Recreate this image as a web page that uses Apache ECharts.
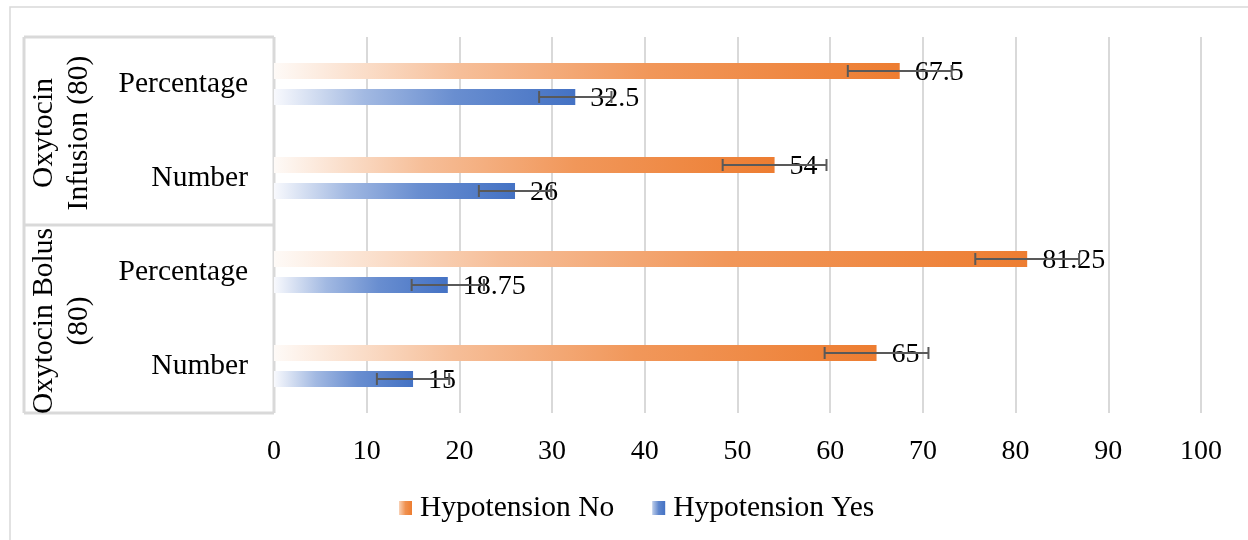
<!DOCTYPE html>
<html>
<head>
<meta charset="utf-8">
<script src="https://cdn.jsdelivr.net/npm/echarts@6/dist/echarts.min.js"></script>
<style>html,body{margin:0;padding:0;background:#fff;}#c{width:1248px;height:540px;}</style>
</head>
<body>
<div id="c"></div>
<script>
// ---- data ----
const categories = ['Percentage', 'Number', 'Percentage', 'Number'];
const groupLabels = ['Oxytocin\nInfusion (80)', 'Oxytocin Bolus\n(80)'];
const groupSpans = [[0, 1], [2, 3]];
const seriesNames = ['Hypotension No', 'Hypotension Yes'];
const hypoNo = [67.5, 54, 81.25, 65];
const hypoYes = [32.5, 26, 18.75, 15];
const hypoNoErr = [5.6, 5.6, 5.6, 5.6];
const hypoYesErr = [3.9, 3.9, 3.9, 3.9];
const xMin = 0, xMax = 100, xStep = 10;

// ---- style ----
const FONT = "'Liberation Serif','Times New Roman',serif";
const BAR_W = 16, BAR_GAP_PX = 10;
function grad(r, g, b) {
  const mix = a => 'rgb(' + Math.round(255 - a * (255 - r)) + ',' + Math.round(255 - a * (255 - g)) + ',' + Math.round(255 - a * (255 - b)) + ')';
  return new echarts.graphic.LinearGradient(0, 0, 1, 0, [
    {offset: 0, color: mix(0.04)},
    {offset: 0.15, color: mix(0.27)},
    {offset: 0.3, color: mix(0.5)},
    {offset: 0.6, color: mix(0.8)},
    {offset: 1, color: mix(1)}
  ]);
}
function legendGrad(r, g, b) {
  const mix = a => 'rgb(' + Math.round(255 - a * (255 - r)) + ',' + Math.round(255 - a * (255 - g)) + ',' + Math.round(255 - a * (255 - b)) + ')';
  return new echarts.graphic.LinearGradient(0, 0, 1, 0, [
    {offset: 0, color: mix(0.35)},
    {offset: 0.5, color: mix(0.85)},
    {offset: 1, color: mix(1)}
  ]);
}
const orangeGrad = grad(237, 125, 49);
const blueGrad = grad(68, 114, 196);

function errSeries(vals, errs, sign) {
  return {
    type: 'custom',
    z: 4,
    silent: true,
    encode: {x: 0, y: 2},
    data: vals.map((v, i) => [v, errs[i], i]),
    renderItem: function (params, api) {
      const v = api.value(0), e = api.value(1), c = api.value(2);
      const p1 = api.coord([v - e, c]);
      const p2 = api.coord([v + e, c]);
      const y = p1[1] + sign * (BAR_W + BAR_GAP_PX) / 2;
      const st = {stroke: '#595959', lineWidth: 2};
      return {
        type: 'group',
        children: [
          {type: 'line', shape: {x1: p1[0], y1: y, x2: p2[0], y2: y}, style: st},
          {type: 'line', shape: {x1: p1[0], y1: y - 6, x2: p1[0], y2: y + 6}, style: st},
          {type: 'line', shape: {x1: p2[0], y1: y - 6, x2: p2[0], y2: y + 6}, style: st}
        ]
      };
    }
  };
}

const chart = echarts.init(document.getElementById('c'));
const labelStyle = {show: true, position: 'right', distance: 15, offset: [0, 2], fontSize: 28, fontFamily: FONT, color: '#000'};
chart.setOption({
  animation: false,
  textStyle: {fontFamily: FONT},
  grid: {left: 274, right: 47, top: 37, bottom: 127},
  legend: {
    top: 488, left: 394,
    itemWidth: 13, itemHeight: 14, itemGap: 38,
    icon: 'rect',
    data: [
      {name: seriesNames[0], itemStyle: {color: legendGrad(237, 125, 49)}},
      {name: seriesNames[1], itemStyle: {color: legendGrad(68, 114, 196)}}
    ],
    textStyle: {fontSize: 29.5, fontFamily: FONT, color: '#000', padding: [0, 0, 0, 3]}
  },
  xAxis: {
    type: 'value', min: xMin, max: xMax, interval: xStep,
    axisLine: {show: false}, axisTick: {show: false},
    splitLine: {show: true, lineStyle: {color: '#d9d9d9', width: 2}},
    axisLabel: {fontSize: 28, fontFamily: FONT, color: '#000', margin: 25}
  },
  yAxis: {
    type: 'category', inverse: true, data: categories,
    axisLine: {show: false}, axisTick: {show: false},
    axisLabel: {fontSize: 29.5, fontFamily: FONT, color: '#000', margin: 26, padding: [4, 0, 0, 0]}
  },
  series: [
    {name: seriesNames[0], type: 'bar', data: hypoNo, barWidth: BAR_W, barGap: (BAR_GAP_PX / BAR_W * 100) + '%',
      itemStyle: {color: orangeGrad}, label: labelStyle, z: 2},
    {name: seriesNames[1], type: 'bar', data: hypoYes, barWidth: BAR_W, barGap: (BAR_GAP_PX / BAR_W * 100) + '%',
      itemStyle: {color: blueGrad}, label: labelStyle, z: 2},
    errSeries(hypoNo, hypoNoErr, -1),
    errSeries(hypoYes, hypoYesErr, 1)
  ]
});

// ---- decorations: outer frame and multi-level category box ----
const rect = chart.getModel().getComponent('grid').coordinateSystem.getRect();
const boxLeft = 24, groupColX = 62;
const catY = i => chart.convertToPixel({yAxisIndex: 0}, i);
const band = catY(1) - catY(0);
const lineSt = {stroke: '#d9d9d9', lineWidth: 3};
const elements = [
  {type: 'rect', shape: {x: 10, y: 7, width: 1260, height: 560}, style: {fill: null, stroke: '#d9d9d9', lineWidth: 1.5}, silent: true, z: 0},
  {type: 'line', shape: {x1: boxLeft, y1: rect.y, x2: boxLeft, y2: rect.y + rect.height}, style: lineSt, z: 1},
  {type: 'line', shape: {x1: rect.x, y1: rect.y, x2: rect.x, y2: rect.y + rect.height}, style: lineSt, z: 1},
  {type: 'line', shape: {x1: boxLeft, y1: rect.y, x2: rect.x, y2: rect.y}, style: lineSt, z: 1},
  {type: 'line', shape: {x1: boxLeft, y1: rect.y + rect.height, x2: rect.x, y2: rect.y + rect.height}, style: lineSt, z: 1}
];
groupSpans.forEach((sp, gi) => {
  const top = catY(sp[0]) - band / 2, bot = catY(sp[1]) + band / 2;
  if (gi > 0) elements.push({type: 'line', shape: {x1: boxLeft, y1: top, x2: rect.x, y2: top}, style: lineSt, z: 1});
  elements.push({
    type: 'text', x: groupColX, y: (top + bot) / 2 + 2, rotation: Math.PI / 2,
    style: {text: groupLabels[gi], font: '29.5px ' + FONT, fill: '#000', align: 'center', verticalAlign: 'middle', lineHeight: 35},
    z: 5
  });
});
chart.setOption({graphic: {elements: elements}});
</script>
</body>
</html>
